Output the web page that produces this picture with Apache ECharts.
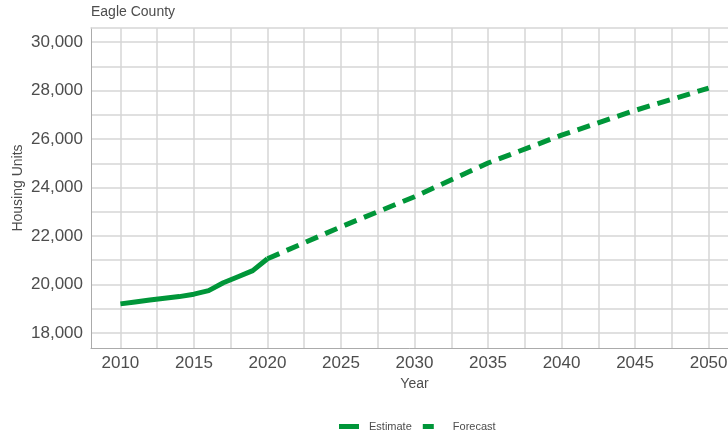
<!DOCTYPE html>
<html>
<head>
<meta charset="utf-8">
<script src="https://cdn.jsdelivr.net/npm/echarts@6/dist/echarts.min.js"></script>
<style>
  html, body { margin: 0; padding: 0; background: #fff; }
  #chart { width: 728px; height: 438px; }
</style>
</head>
<body>
<div id="chart"></div>
<script>
const titleText = 'Eagle County';
const estimateYears = [2010, 2011, 2012, 2013, 2014, 2015, 2016, 2017, 2018, 2019, 2020];
const estimateValues = [19200, 19280, 19360, 19430, 19500, 19600, 19745, 20070, 20320, 20570, 21060];
const forecastYears = [2020, 2025, 2030, 2035, 2040, 2045, 2050];
const forecastValues = [21060, 22380, 23620, 25010, 26160, 27180, 28100];
const yTickValues = [18000, 19000, 20000, 21000, 22000, 23000, 24000, 25000, 26000, 27000, 28000, 29000, 30000];
const yLabelValues = [18000, 20000, 22000, 24000, 26000, 28000, 30000];
const xTickValues = [2010, 2012.5, 2015, 2017.5, 2020, 2022.5, 2025, 2027.5, 2030, 2032.5, 2035, 2037.5, 2040, 2042.5, 2045, 2047.5, 2050];
const xLabelValues = [2010, 2015, 2020, 2025, 2030, 2035, 2040, 2045, 2050];

const green = '#009639';
const textGray = '#4d4d4d';
const gridGray = '#d6d6d6';
const axisGray = '#ababab';
const font = 'Liberation Sans, Arial, sans-serif';

const chart = echarts.init(document.getElementById('chart'), null, { renderer: 'canvas' });
chart.setOption({
  animation: false,
  backgroundColor: '#fff',
  title: {
    text: titleText,
    left: 86, top: 0,
    textStyle: { fontSize: 14, fontWeight: 'normal', color: textGray, fontFamily: font }
  },
  grid: {
    left: 91, right: -10, top: 28, bottom: 90,
    show: false, containLabel: false, outerBoundsMode: 'none'
  },
  legend: {
    top: 416, left: 334,
    itemWidth: 25, itemHeight: 5, itemGap: 11,
    textStyle: { fontSize: 11, color: textGray, fontFamily: font },
    data: [
      { name: 'Estimate', icon: 'path://M0,0H20V5H0Z M25,0L25,5' },
      { name: 'Forecast', icon: 'path://M0,0H11V5H0Z M25,0L25,5' }
    ]
  },
  xAxis: [
    {
      type: 'value', min: 2008, max: 2052,
      name: 'Year', nameLocation: 'middle', nameGap: 29, nameMoveOverlap: false,
      nameTextStyle: { fontSize: 14, color: textGray, fontFamily: font },
      axisLine: { show: true, lineStyle: { color: axisGray, width: 1 } },
      axisTick: { show: false, customValues: xTickValues },
      axisLabel: { customValues: xLabelValues, fontSize: 17, color: textGray, margin: 7, fontFamily: font, formatter: v => String(v) },
      splitLine: { show: true, lineStyle: { color: gridGray, width: 1.5 } }
    },
    {
      type: 'value', min: 2008, max: 2052, position: 'top',
      axisLine: { show: true, lineStyle: { color: gridGray, width: 1.5 } },
      axisTick: { show: false }, axisLabel: { show: false }, splitLine: { show: false }
    }
  ],
  yAxis: {
    type: 'value', min: 17380, max: 30580,
    name: 'Housing Units', nameLocation: 'middle', nameGap: 66, nameRotate: 90, nameMoveOverlap: false,
    nameTextStyle: { fontSize: 14, color: textGray, fontFamily: font },
    axisLine: { show: true, lineStyle: { color: axisGray, width: 1 } },
    axisTick: { show: false, customValues: yTickValues },
    axisLabel: { customValues: yLabelValues, fontSize: 17, color: textGray, margin: 8, fontFamily: font,
      formatter: v => v.toLocaleString('en-US') },
    splitLine: { show: true, lineStyle: { color: gridGray, width: 1.5 } }
  },
  series: [
    {
      name: 'Estimate', type: 'line', showSymbol: false, symbol: 'none',
      data: estimateYears.map((y, i) => [y, estimateValues[i]]),
      lineStyle: { color: green, width: 5, cap: 'butt', join: 'round' },
      itemStyle: { color: green }
    },
    {
      name: 'Forecast', type: 'line', showSymbol: false, symbol: 'none',
      data: forecastYears.map((y, i) => [y, forecastValues[i]]),
      lineStyle: { color: green, width: 5, type: [13, 8], cap: 'butt' },
      itemStyle: { color: green }
    }
  ]
});
</script>
</body>
</html>
